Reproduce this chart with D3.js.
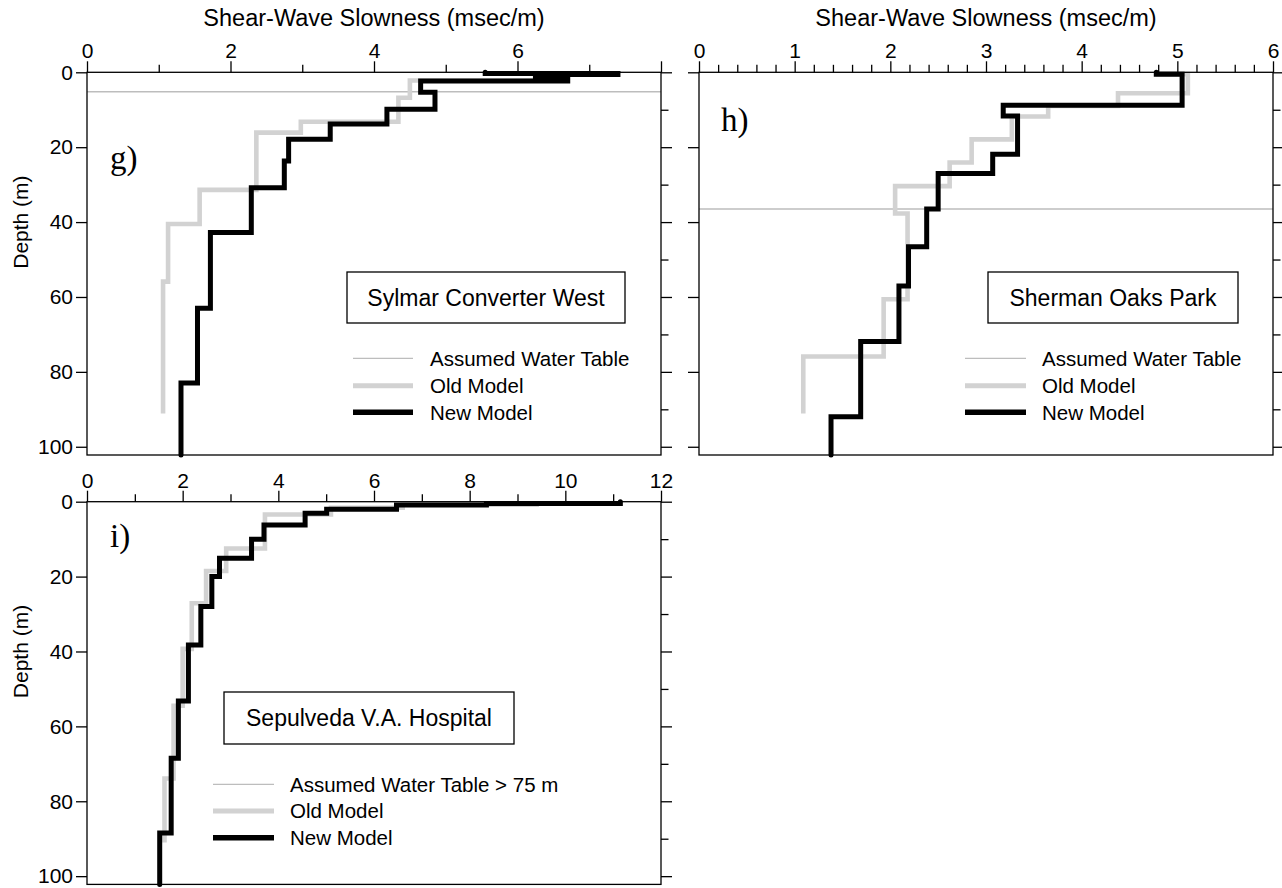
<!DOCTYPE html>
<html>
<head>
<meta charset="utf-8">
<script src="https://cdn.jsdelivr.net/npm/d3@7"></script>
<style>
  html, body { margin: 0; padding: 0; background: #fff; }
  svg { display: block; }
</style>
</head>
<body>
<svg id="chart" width="1282" height="888"></svg>
<script>
// ---- Shear-wave slowness profiles (layer top depth in m, slowness in msec/m) ----
const sylmarOldDepth    = [0, 2.2, 6.8, 13.2, 16.1, 31.4, 40.5, 55.9];
const sylmarOldSlowness = [6.6, 4.50, 4.34, 2.98, 2.36, 1.57, 1.13, 1.06];
const sylmarOldBottom   = 91.1;
const sylmarNewDepth    = [0, 0.3, 0.6, 1.2, 2.3, 5.3, 9.9, 13.8, 17.9, 23.7, 30.8, 42.8, 63.0, 83.0];
const sylmarNewSlowness = [5.55, 7.4, 6.25, 6.7, 4.65, 4.85, 4.18, 3.39, 2.81, 2.75, 2.29, 1.72, 1.54, 1.31];
const sylmarNewBottom   = 102.2;
const sylmarWaterTable  = 5.2;

const shermanOldDepth    = [0, 0.5, 5.6, 9.0, 11.8, 17.9, 24.1, 30.4, 37.7, 60.6, 75.9];
const shermanOldSlowness = [4.8, 5.11, 4.38, 3.65, 3.27, 2.85, 2.62, 2.05, 2.18, 1.93, 1.09];
const shermanOldBottom   = 91.1;
const shermanNewDepth    = [0, 0.5, 8.8, 11.7, 21.9, 27.0, 36.5, 46.6, 57.1, 71.9, 92.0];
const shermanNewSlowness = [4.78, 5.05, 3.18, 3.33, 3.07, 2.50, 2.38, 2.19, 2.09, 1.69, 1.38];
const shermanNewBottom   = 102.2;
const shermanWaterTable  = 36.5;

const sepulvedaOldDepth    = [0, 0.8, 1.6, 3.4, 12.5, 18.5, 27.1, 39.3, 54.5, 73.9];
const sepulvedaOldSlowness = [9.4, 6.6, 5.1, 3.72, 2.91, 2.49, 2.19, 2.00, 1.81, 1.62];
const sepulvedaOldBottom   = 91.0;
const sepulvedaNewDepth    = [0, 0.45, 0.9, 2.0, 3.1, 6.2, 10.0, 15.1, 20.0, 28.0, 38.3, 53.2, 68.5, 88.5];
const sepulvedaNewSlowness = [11.15, 8.35, 6.47, 5.01, 4.56, 3.70, 3.44, 2.77, 2.61, 2.38, 2.12, 1.91, 1.76, 1.52];
const sepulvedaNewBottom   = 102.2;

// ---- Axis ticks and labels ----
const depthMax          = 102.2;
const depthMajorTicks   = [0, 20, 40, 60, 80, 100];
const depthMinorTicks   = [10, 30, 50, 70, 90];
const sylmarMajorTicks  = [0, 2, 4, 6, 8];
const sylmarMinorTicks  = [1, 3, 5, 7];
const sylmarTickLabels  = [0, 2, 4, 6];
const shermanMajorTicks = [0, 1, 2, 3, 4, 5, 6];
const shermanMinorTicks = d3.range(0, 6.001, 0.2).map(v => +v.toFixed(1)).filter(v => !Number.isInteger(v));
const shermanTickLabels = [0, 1, 2, 3, 4, 5, 6];
const sepulvedaMajorTicks = [0, 2, 4, 6, 8, 10, 12];
const sepulvedaMinorTicks = [1, 3, 5, 7, 9, 11];
const sepulvedaTickLabels = [0, 2, 4, 6, 8, 10, 12];

const xTitle = "Shear-Wave Slowness (msec/m)";
const yTitle = "Depth (m)";
const legendLabelsWT   = "Assumed Water Table";
const legendLabelsWT75 = "Assumed Water Table > 75 m";
const legendOld = "Old Model";
const legendNew = "New Model";

// ---- Styling ----
const SANS  = '"Liberation Sans", Arial, Helvetica, sans-serif';
const SERIF = '"Liberation Serif", "Times New Roman", serif';
const OLD_COLOR = "#d2d2d2";
const NEW_COLOR = "#000000";
const WT_COLOR  = "#bdbdbd";

const svg = d3.select("#chart");

const panels = [
  {
    key: "g", letter: "g)", letterX: 110, letterY: 169,
    x0: 87, x1: 661, y0: 72.3, y1: 455, xMax: 8,
    major: sylmarMajorTicks, minor: sylmarMinorTicks, labels: sylmarTickLabels,
    leftLabels: true, title: true,
    old: [sylmarOldDepth, sylmarOldSlowness, sylmarOldBottom],
    neu: [sylmarNewDepth, sylmarNewSlowness, sylmarNewBottom],
    water: sylmarWaterTable,
    site: "Sylmar Converter West", box: { x: 347, y: 272, w: 278, h: 51 },
    leg: { x1: 353, x2: 413, tx: 430, rows: [358.3, 385.7, 412.3] },
    wtLabel: legendLabelsWT
  },
  {
    key: "h", letter: "h)", letterX: 721, letterY: 131,
    x0: 699, x1: 1273, y0: 72.3, y1: 455, xMax: 6,
    major: shermanMajorTicks, minor: shermanMinorTicks, labels: shermanTickLabels,
    leftLabels: false, title: true,
    old: [shermanOldDepth, shermanOldSlowness, shermanOldBottom],
    neu: [shermanNewDepth, shermanNewSlowness, shermanNewBottom],
    water: shermanWaterTable,
    site: "Sherman Oaks Park", box: { x: 988, y: 272, w: 250, h: 51 },
    leg: { x1: 965, x2: 1026, tx: 1042, rows: [358.3, 385.7, 412.3] },
    wtLabel: legendLabelsWT
  },
  {
    key: "i", letter: "i)", letterX: 110, letterY: 547,
    x0: 87, x1: 661, y0: 501.7, y1: 884.4, xMax: 12,
    major: sepulvedaMajorTicks, minor: sepulvedaMinorTicks, labels: sepulvedaTickLabels,
    leftLabels: true, title: false,
    old: [sepulvedaOldDepth, sepulvedaOldSlowness, sepulvedaOldBottom],
    neu: [sepulvedaNewDepth, sepulvedaNewSlowness, sepulvedaNewBottom],
    water: null,
    site: "Sepulveda V.A. Hospital", box: { x: 224, y: 692, w: 290, h: 52 },
    leg: { x1: 213, x2: 274, tx: 290, rows: [784.3, 811, 837.7] },
    wtLabel: legendLabelsWT75
  }
];

// Turn layer tops + slowness into a vertical/horizontal step outline
function stepPoints(depths, values, bottom) {
  const pts = [];
  for (let i = 0; i < depths.length; i++) {
    const next = i + 1 < depths.length ? depths[i + 1] : bottom;
    pts.push([values[i], depths[i]]);
    pts.push([values[i], next]);
  }
  return pts;
}

function styleAxis(g, size) {
  g.attr("font-family", SANS).attr("font-size", size);
  g.select(".domain").remove();
  g.selectAll(".tick line").attr("stroke", "#000").attr("stroke-width", 1.3);
  g.selectAll(".tick text").attr("fill", "#000");
}

panels.forEach(p => {
  const x = d3.scaleLinear().domain([0, p.xMax]).range([p.x0, p.x1]);
  const y = d3.scaleLinear().domain([0, depthMax]).range([p.y0, p.y1]);
  const g = svg.append("g").attr("class", "panel-" + p.key);

  // water table
  if (p.water != null) {
    g.append("line")
      .attr("x1", x(0)).attr("x2", x(p.xMax))
      .attr("y1", y(p.water)).attr("y2", y(p.water))
      .attr("stroke", WT_COLOR).attr("stroke-width", 1.3);
  }

  const line = d3.line().x(d => x(d[0])).y(d => y(d[1]));

  g.append("path")
    .attr("d", line(stepPoints(...p.old)))
    .attr("fill", "none").attr("stroke", OLD_COLOR)
    .attr("stroke-width", 4.6).attr("stroke-linejoin", "miter");

  g.append("path")
    .attr("d", line(stepPoints(...p.neu)))
    .attr("fill", "none").attr("stroke", NEW_COLOR)
    .attr("stroke-width", 5).attr("stroke-linejoin", "miter")
    .attr("stroke-linecap", "round");

  // frame
  g.append("rect")
    .attr("x", p.x0).attr("y", p.y0)
    .attr("width", p.x1 - p.x0).attr("height", p.y1 - p.y0)
    .attr("fill", "none").attr("stroke", "#000").attr("stroke-width", 1.3);

  // top axis
  g.append("g").attr("transform", `translate(0,${p.y0})`)
    .call(d3.axisTop(x).tickValues(p.minor).tickSize(7.5).tickFormat(""))
    .call(a => styleAxis(a, 21));
  g.append("g").attr("transform", `translate(0,${p.y0})`)
    .call(d3.axisTop(x).tickValues(p.major).tickSize(11).tickPadding(3)
      .tickFormat(d => p.labels.includes(d) ? d3.format("d")(d) : ""))
    .call(a => styleAxis(a, 21));

  // left axis
  g.append("g").attr("transform", `translate(${p.x0},0)`)
    .call(d3.axisLeft(y).tickValues(depthMajorTicks).tickSize(11).tickPadding(3)
      .tickFormat(p.leftLabels ? d3.format("d") : () => ""))
    .call(a => styleAxis(a, 21));

  // right axis
  g.append("g").attr("transform", `translate(${p.x1},0)`)
    .call(d3.axisRight(y).tickValues(depthMajorTicks).tickSize(11).tickFormat(""))
    .call(a => styleAxis(a, 21));
  g.append("g").attr("transform", `translate(${p.x1},0)`)
    .call(d3.axisRight(y).tickValues(depthMinorTicks).tickSize(7.5).tickFormat(""))
    .call(a => styleAxis(a, 21));

  // titles
  if (p.title) {
    g.append("text")
      .attr("x", (p.x0 + p.x1) / 2).attr("y", 26)
      .attr("text-anchor", "middle")
      .attr("font-family", SANS).attr("font-size", 23.5)
      .text(xTitle);
  }
  if (p.leftLabels) {
    g.append("text")
      .attr("transform", `translate(28,${y(40)}) rotate(-90)`)
      .attr("text-anchor", "middle")
      .attr("font-family", SANS).attr("font-size", 21)
      .text(yTitle);
  }

  // panel letter
  g.append("text")
    .attr("x", p.letterX).attr("y", p.letterY)
    .attr("font-family", SERIF).attr("font-size", 33)
    .text(p.letter);

  // site name box
  g.append("rect")
    .attr("x", p.box.x).attr("y", p.box.y)
    .attr("width", p.box.w).attr("height", p.box.h)
    .attr("fill", "#fff").attr("stroke", "#000").attr("stroke-width", 1.3);
  g.append("text")
    .attr("x", p.box.x + p.box.w / 2).attr("y", p.box.y + p.box.h / 2 + 8.3)
    .attr("text-anchor", "middle")
    .attr("font-family", SANS).attr("font-size", 23)
    .text(p.site);

  // legend
  const legendItems = [
    { label: p.wtLabel, color: WT_COLOR, width: 1.3 },
    { label: legendOld, color: OLD_COLOR, width: 5 },
    { label: legendNew, color: NEW_COLOR, width: 5.5 }
  ];
  legendItems.forEach((it, i) => {
    const ry = p.leg.rows[i];
    g.append("line")
      .attr("x1", p.leg.x1).attr("x2", p.leg.x2)
      .attr("y1", ry).attr("y2", ry)
      .attr("stroke", it.color).attr("stroke-width", it.width);
    g.append("text")
      .attr("x", p.leg.tx).attr("y", ry + 7.4)
      .attr("font-family", SANS).attr("font-size", 20.5)
      .text(it.label);
  });
});
</script>
</body>
</html>
